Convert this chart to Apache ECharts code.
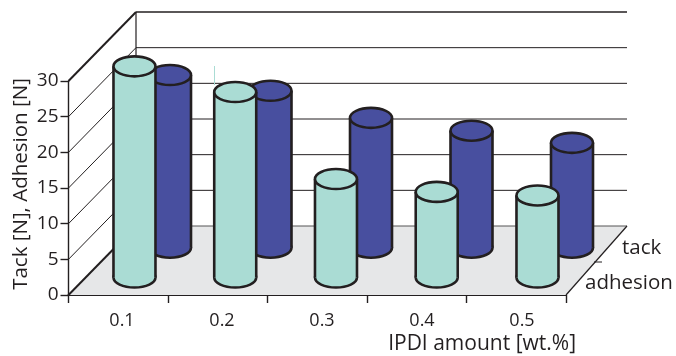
<!DOCTYPE html>
<html>
<head>
<meta charset="utf-8">
<style>
  html, body { margin: 0; padding: 0; background: #fff; }
  #chart { width: 676px; height: 356px; }
</style>
<script src="https://cdn.jsdelivr.net/npm/echarts@6/dist/echarts.min.js"></script>
</head>
<body>
<div id="chart"></div>
<script>
const categories = ['0.1', '0.2', '0.3', '0.4', '0.5'];
const adhesion = [29.6, 26, 13.8, 12, 11.5];
const tack = [24.2, 22, 18.2, 16.4, 14.7];
const depthLabels = ['tack', 'adhesion'];
const yMax = 30;
const yStep = 5;

const INK = '#231f20';
const FONT = '"Open Sans", sans-serif';
const BODY_RX = 21;
const BODY_RY = 10;

const chart = echarts.init(document.getElementById('chart'));

// box behind the bars, built off the front plane of the main grid
const renderFrame = (params) => {
    const r = params.coordSys;
    const left = r.x, right = r.x + r.width, bottom = r.y + r.height;
    const dx = 67.5, dy = 69, backRight = right + 61;
    const kids = [{
        type: 'polygon',
        shape: { points: [[left, bottom], [left + dx, bottom - dy], [backRight, bottom - dy], [right, bottom]] },
        style: { fill: '#e6e7e8' }
    }];
    const line = (x1, y1, x2, y2, w, c) => kids.push({
        type: 'line',
        shape: { x1, y1, x2, y2 },
        style: { stroke: c || INK, lineWidth: w, fill: null }
    });
    for (let v = 0; v <= yMax; v += yStep) {
        const y = bottom - r.height * v / yMax;
        const edge = v === 0 || v === yMax;
        line(left, y, left + dx, y - dy, edge ? 2 : 1);
        line(left + dx, y - dy, backRight, y - dy, v === yMax ? 1.6 : 1, v === 0 ? '#555' : INK);
    }
    line(left + dx, r.y - dy, left + dx, bottom - dy, 1.2);
    line(right, bottom, backRight, bottom - dy, 1.2);
    // stray cyan sliver above the second bar in the scan
    line(left + 146, bottom - 229, left + 146, bottom - 210, 1, '#aadcd4');
    // depth axis tick and labels
    line(right + 36, bottom - 33, right + 28, bottom - 33, 1);
    kids.push({
        type: 'text', x: right + 56, y: bottom - 47,
        style: { text: depthLabels[0], font: '20.5px ' + FONT, fill: INK, verticalAlign: 'middle' }
    }, {
        type: 'text', x: right + 19, y: bottom - 12,
        style: { text: depthLabels[1], font: '20.5px ' + FONT, fill: INK, verticalAlign: 'middle' }
    });
    return { type: 'group', children: kids };
};

const renderCylinder = (color) => (params, api) => {
    const top = api.coord([api.value(0), api.value(1)]);
    const base = api.coord([api.value(0), 0]);
    const stroke = { stroke: INK, lineWidth: 2.6 };
    const x = top[0];
    return {
        type: 'group',
        children: [
            { type: 'ellipse', shape: { cx: x, cy: base[1], rx: BODY_RX, ry: BODY_RY }, style: { fill: color, ...stroke } },
            { type: 'rect', shape: { x: x - BODY_RX, y: top[1], width: BODY_RX * 2, height: base[1] - top[1] }, style: { fill: color } },
            { type: 'line', shape: { x1: x - BODY_RX, y1: top[1], x2: x - BODY_RX, y2: base[1] }, style: stroke },
            { type: 'line', shape: { x1: x + BODY_RX, y1: top[1], x2: x + BODY_RX, y2: base[1] }, style: stroke },
            { type: 'ellipse', shape: { cx: x, cy: top[1], rx: BODY_RX, ry: BODY_RY }, style: { fill: color, ...stroke } }
        ]
    };
};

const hiddenX = (gridIndex) => ({ type: 'category', gridIndex, data: categories, show: false });
const hiddenY = (gridIndex) => ({ type: 'value', gridIndex, min: 0, max: yMax, show: false });

chart.setOption({
    animation: false,
    backgroundColor: '#fff',
    grid: [
        { left: 68.5, top: 81, width: 497.5, height: 214, outerBoundsMode: 'none' },     // front plane, carries the axes
        { left: 119.75, top: 33.7, width: 502.5, height: 214, outerBoundsMode: 'none' }, // tack row
        { left: 84.1, top: 63.5, width: 503.75, height: 214, outerBoundsMode: 'none' },  // adhesion row
        { left: 72, top: 81, width: 500, height: 214, outerBoundsMode: 'none' }          // x labels sit a bit off the ticks
    ],
    xAxis: [
        {
            type: 'category', gridIndex: 0, data: categories,
            axisLine: { show: true, lineStyle: { color: INK, width: 2 } },
            axisTick: { show: true, alignWithLabel: false, length: 8, lineStyle: { color: INK, width: 1.4 } },
            axisLabel: { show: false }
        },
        hiddenX(1),
        hiddenX(2),
        {
            type: 'category', gridIndex: 3, data: categories,
            axisLine: { show: false },
            axisTick: { show: false },
            axisLabel: { color: INK, fontFamily: FONT, fontSize: 18, margin: 17 },
            name: 'IPDI amount [wt.%]',
            nameLocation: 'end',
            nameGap: 4,
            nameTextStyle: { color: INK, fontFamily: FONT, fontSize: 21, align: 'right', verticalAlign: 'top', padding: [39, 0, 0, 0] }
        }
    ],
    yAxis: [
        {
            type: 'value', gridIndex: 0, min: 0, max: yMax, interval: yStep,
            axisLine: { show: true, lineStyle: { color: INK, width: 1.4 } },
            axisTick: { show: true, length: 8, lineStyle: { color: INK, width: 1.4 } },
            axisLabel: { color: INK, fontFamily: FONT, fontSize: 19, margin: 10 },
            splitLine: { show: false },
            name: 'Tack [N], Adhesion [N]',
            nameLocation: 'middle',
            nameGap: 37,
            nameMoveOverlap: false,
            nameTextStyle: { color: INK, fontFamily: FONT, fontSize: 20.5, padding: [0, 0, 0, 8] }
        },
        hiddenY(1),
        hiddenY(2),
        hiddenY(3)
    ],
    series: [
        { type: 'custom', name: 'frame', xAxisIndex: 0, yAxisIndex: 0, data: [0], renderItem: renderFrame, z: 1, silent: true },
        {
            type: 'custom', name: 'tack', xAxisIndex: 1, yAxisIndex: 1, z: 2,
            encode: { x: 0, y: 1 },
            data: tack.map((v, i) => [i, v]),
            renderItem: renderCylinder('#484f9f')
        },
        {
            type: 'custom', name: 'adhesion', xAxisIndex: 2, yAxisIndex: 2, z: 3,
            encode: { x: 0, y: 1 },
            data: adhesion.map((v, i) => [i, v]),
            renderItem: renderCylinder('#aadcd4')
        }
    ]
});

window.addEventListener('resize', () => chart.resize());
</script>
</body>
</html>
